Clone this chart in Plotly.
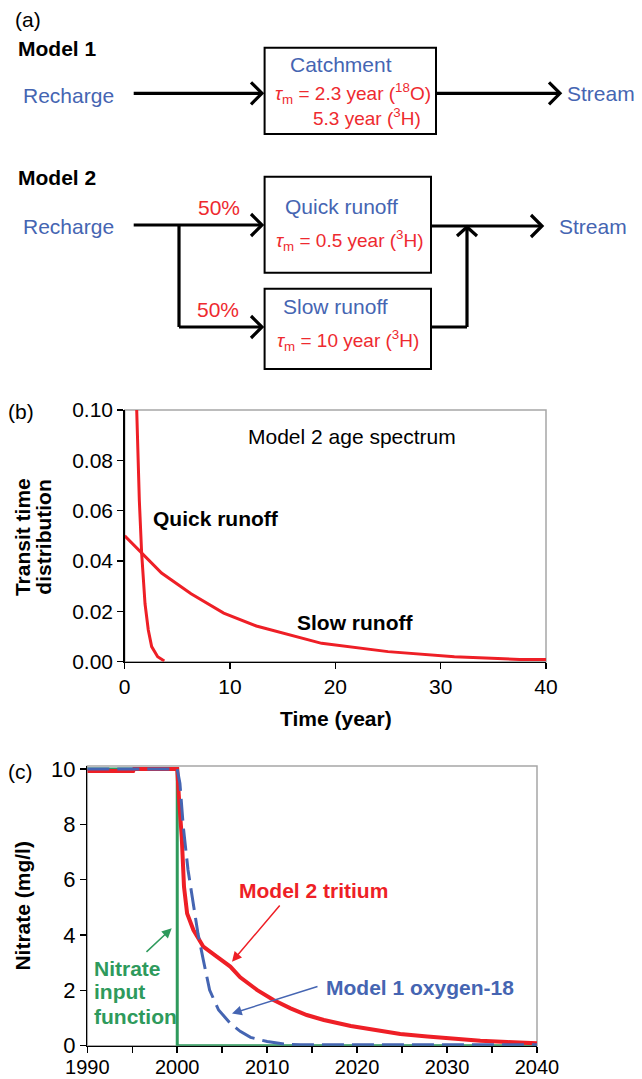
import plotly.graph_objects as go

W, H = 642, 1079
FONT = "Liberation Sans, Arial, Helvetica, sans-serif"
RED = "#EE1F26"
BLUE = "#4565B2"
GREEN = "#2E9A5C"
LRED = "#EE2A2F"

# ---------------- data ----------------
# (b) Model 2 age spectrum (transit time distribution)
quick_t = [1.14, 1.39, 1.61, 1.93, 2.24, 2.56, 3.13, 3.76]
quick_f = [0.100, 0.064, 0.043, 0.023, 0.0126, 0.0060, 0.0020, 0.0003]
slow_t = [0.0, 1.6, 3.5, 6.3, 9.4, 12.5, 18.7, 25.0, 31.3, 37.5, 40.0]
slow_f = [0.0500, 0.0431, 0.0352, 0.0270, 0.0193, 0.0142, 0.0073, 0.0040, 0.0020, 0.0009, 0.0009]

# (c) Nitrate response
input_year = [1990, 2000, 2000, 2040]
input_no3 = [10, 10, 0, 0]
m2_year = [1990, 1995.1, 1995.2, 2000.0, 2000.2, 2000.5, 2000.75, 2001.1, 2001.8, 2002.9,
           2004.4, 2005.9, 2007.0, 2008.9, 2010.7, 2012.6, 2014.4, 2016.3, 2019.3, 2021.9,
           2024.8, 2027.8, 2030.7, 2033.7, 2036.7, 2040]
m2_no3 = [9.93, 9.93, 10.0, 10.0, 8.9, 7.55, 5.75, 4.78, 4.18, 3.58,
          3.22, 2.86, 2.47, 2.01, 1.65, 1.35, 1.11, 0.93, 0.71, 0.57,
          0.42, 0.33, 0.25, 0.18, 0.13, 0.09]
m1_year = [1990, 2000.0, 2000.3, 2000.67, 2001.2, 2001.8, 2002.3, 2002.9, 2003.6, 2004.6,
           2005.9, 2007.0, 2008.15, 2010.0, 2011.85, 2013.7, 2020, 2030, 2040]
m1_no3 = [10, 10, 9.48, 7.92, 6.35, 5.02, 4.06, 3.10, 2.01, 1.29,
          0.81, 0.52, 0.30, 0.15, 0.06, 0.03, 0.03, 0.03, 0.03]

b_xticks = [0, 10, 20, 30, 40]
c_xticks = [1990, 2000, 2010, 2020, 2030, 2040]


def px(x):
    return x / W


def py(y):
    return 1 - y / H


fig = go.Figure()

# panel (b)
fig.add_trace(go.Scatter(x=slow_t, y=slow_f, mode="lines", line=dict(color=RED, width=3),
                         xaxis="x", yaxis="y", showlegend=False, hoverinfo="skip"))
fig.add_trace(go.Scatter(x=quick_t, y=quick_f, mode="lines", line=dict(color=RED, width=3),
                         xaxis="x", yaxis="y", showlegend=False, hoverinfo="skip"))

# panel (c)
fig.add_trace(go.Scatter(x=input_year, y=input_no3, mode="lines", line=dict(color=GREEN, width=3),
                         xaxis="x2", yaxis="y2", showlegend=False, hoverinfo="skip"))
fig.add_trace(go.Scatter(x=m2_year, y=m2_no3, mode="lines", line=dict(color=RED, width=4),
                         xaxis="x2", yaxis="y2", showlegend=False, hoverinfo="skip"))
fig.add_trace(go.Scatter(x=m1_year, y=m1_no3, mode="lines",
                         line=dict(color=BLUE, width=3, dash="22px,8px"),
                         xaxis="x2", yaxis="y2", showlegend=False, hoverinfo="skip"))


def axis_common(size):
    return dict(showgrid=False, zeroline=False, showline=True, linecolor="black", linewidth=1.5,
                ticks="outside", ticklen=6, tickwidth=1.5, tickcolor="black",
                tickfont=dict(family=FONT, size=size, color="black"),
                fixedrange=True, automargin=False)


fig.update_layout(
    width=W, height=H,
    margin=dict(l=0, r=0, t=0, b=0, pad=0, autoexpand=False),
    paper_bgcolor="white", plot_bgcolor="white",
    font=dict(family=FONT, color="black", size=20),
    xaxis=dict(domain=[px(124.7), px(546)], range=[0, 40], anchor="y",
               tickvals=b_xticks, **axis_common(21)),
    yaxis=dict(domain=[py(661.7), py(410)], range=[0, 0.1], anchor="x",
               dtick=0.02, tick0=0, tickformat=".2f", **axis_common(21)),
    xaxis2=dict(domain=[px(87.3), px(537)], range=[1990, 2040], anchor="y2",
                tickvals=c_xticks, ticklabelstandoff=-3,
                minor=dict(dtick=5, tick0=1990, ticks="outside", ticklen=6, tickwidth=1.5,
                           tickcolor="black", showgrid=False),
                **axis_common(20)),
    yaxis2=dict(domain=[py(1045.7), py(766)], range=[0, 10.11], anchor="x2",
                dtick=2, tick0=0, **axis_common(22)),
)

shapes = []
# gray frames for plots
for xr, yr in (("x domain", "y domain"), ("x2 domain", "y2 domain")):
    shapes.append(dict(type="rect", xref=xr, yref=yr, x0=0, x1=1, y0=0, y1=1,
                       line=dict(color="#A6A6A6", width=1.5), layer="below"))

LW = 3.2


def hline(x0, x1, y):
    shapes.append(dict(type="line", xref="paper", yref="paper", x0=px(x0), x1=px(x1),
                       y0=py(y), y1=py(y), line=dict(color="black", width=LW)))


def vline(x, y0, y1):
    shapes.append(dict(type="line", xref="paper", yref="paper", x0=px(x), x1=px(x),
                       y0=py(y0), y1=py(y1), line=dict(color="black", width=LW)))


def chev_right(x, y, d=11, h=11):
    shapes.append(dict(type="path", xref="paper", yref="paper",
                       path=f"M {px(x-d)},{py(y-h)} L {px(x)},{py(y)} L {px(x-d)},{py(y+h)}",
                       line=dict(color="black", width=LW)))


def chev_up(x, y, d=9, h=10):
    shapes.append(dict(type="path", xref="paper", yref="paper",
                       path=f"M {px(x-h)},{py(y+d)} L {px(x)},{py(y)} L {px(x+h)},{py(y+d)}",
                       line=dict(color="black", width=LW)))


def box(x0, y0, x1, y1):
    shapes.append(dict(type="rect", xref="paper", yref="paper", x0=px(x0), x1=px(x1),
                       y0=py(y1), y1=py(y0), line=dict(color="black", width=2)))


# Model 1
box(264.6, 47.7, 436, 134)
hline(133.7, 262, 93.3)
chev_right(262, 93.3)
hline(436, 560, 93.3)
chev_right(560, 93.3)

# Model 2
box(264.6, 176.7, 431, 272.7)
box(264.6, 288.7, 431, 369)
hline(133.7, 262, 225)
chev_right(262, 225)
vline(179, 225, 327)
hline(179, 262, 327)
chev_right(262, 327)
hline(431, 542, 226)
chev_right(542, 226)
hline(431, 467, 327)
vline(467, 327, 227)
chev_up(467, 227)

fig.update_layout(shapes=shapes)

ann = []


def text(s, x, y, color="black", size=21, bold=False, xanchor="center", angle=0):
    ann.append(dict(text=s, x=px(x), y=py(y), xref="paper", yref="paper", showarrow=False,
                    xanchor=xanchor, yanchor="middle", textangle=angle,
                    font=dict(family=FONT, size=size, color=color,
                              weight="bold" if bold else "normal")))


TAU = "<i>τ</i><sub>m</sub>"
# panel (a)
text("(a)", 27.7, 20)
text("Model 1", 15.6, 49, bold=True, xanchor="left")
text("Recharge", 68.5, 95, BLUE)
text("Catchment", 340.5, 64, BLUE)
text(f"{TAU} = 2.3 year (<sup>18</sup>O)", 352.5, 93, LRED, size=19)
text("5.3 year (<sup>3</sup>H)", 367, 116.7, LRED, size=19)
text("Stream", 600.5, 94, BLUE)
text("Model 2", 15.6, 177.5, bold=True, xanchor="left")
text("Recharge", 68.5, 227, BLUE)
text("50%", 219, 207.5, LRED)
text("50%", 217.5, 309, LRED)
text("Quick runoff", 341.5, 206.7, BLUE)
text(f"{TAU} = 0.5 year (<sup>3</sup>H)", 350, 240, LRED, size=19)
text("Slow runoff", 335.5, 306.7, BLUE)
text(f"{TAU} = 10 year (<sup>3</sup>H)", 347.5, 341, LRED, size=19)
text("Stream", 593, 227, BLUE)

# panel (b)
text("(b)", 21, 411.7)
text("Model 2 age spectrum", 351.5, 436.7)
text("Quick runoff", 216, 518.3, bold=True)
text("Slow runoff", 355, 622, bold=True)
text("Transit time", 22.6, 537.5, bold=True, angle=-90)
text("distribution", 43.2, 537.5, bold=True, angle=-90)
text("Time (year)", 336, 718.3, bold=True)

# panel (c)
text("(c)", 20, 771.7)
text("Nitrate (mg/l)", 22.6, 906, bold=True, angle=-90)
text("Model 2 tritium", 313, 890, RED, bold=True)
text("Model 1 oxygen-18", 419.5, 987.3, BLUE, bold=True)
text("Nitrate", 91.7, 968.3, GREEN, bold=True, xanchor="left")
text("input", 91.7, 991.7, GREEN, bold=True, xanchor="left")
text("function", 91.7, 1016.7, GREEN, bold=True, xanchor="left")


def arrow(tipx, tipy, tailx, taily, color):
    ann.append(dict(text="", x=px(tipx), y=py(tipy), xref="paper", yref="paper",
                    showarrow=True, ax=tailx - tipx, ay=taily - tipy,
                    arrowhead=2, arrowsize=1.3, arrowwidth=1.5, arrowcolor=color,
                    standoff=0, startstandoff=0, font=dict(size=12)))


arrow(232, 961.7, 281, 904, RED)
arrow(232, 1013.5, 319, 986, BLUE)
arrow(171.7, 928.3, 145, 953.3, GREEN)

fig.update_layout(annotations=ann)

fig.write_html("out.html", config={"displayModeBar": False, "staticPlot": True})
